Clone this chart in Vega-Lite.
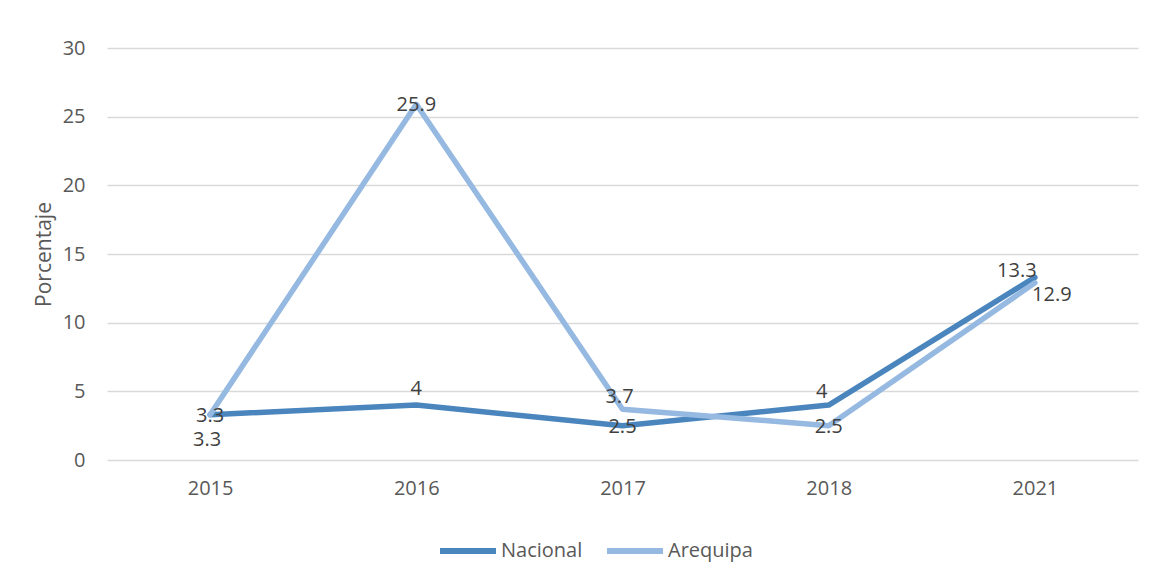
{
  "$schema": "https://vega.github.io/schema/vega-lite/v6.json",
  "autosize": {"type": "none"},
  "width": 1031,
  "height": 412,
  "padding": {"left": 107, "top": 48, "right": 25, "bottom": 125},
  "background": "white",
  "config": {
    "view": {"stroke": null},
    "font": "Open Sans",
    "axis": {"labelFont": "Open Sans", "titleFont": "Open Sans"},
    "legend": {"labelFont": "Open Sans"}
  },
  "data": {
    "values": [
      {"year": "2015", "serie": "Nacional", "value": 3.3},
      {"year": "2016", "serie": "Nacional", "value": 4},
      {"year": "2017", "serie": "Nacional", "value": 2.5},
      {"year": "2018", "serie": "Nacional", "value": 4},
      {"year": "2021", "serie": "Nacional", "value": 13.3},
      {"year": "2015", "serie": "Arequipa", "value": 3.3},
      {"year": "2016", "serie": "Arequipa", "value": 25.9},
      {"year": "2017", "serie": "Arequipa", "value": 3.7},
      {"year": "2018", "serie": "Arequipa", "value": 2.5},
      {"year": "2021", "serie": "Arequipa", "value": 12.9}
    ]
  },
  "encoding": {
    "x": {
      "field": "year",
      "type": "ordinal",
      "scale": {"type": "point", "padding": 0.5},
      "axis": {
        "title": null,
        "domain": false,
        "ticks": false,
        "grid": false,
        "labelAngle": 0,
        "labelFontSize": 20,
        "labelColor": "#595959",
        "labelPadding": 18
      }
    },
    "y": {
      "field": "value",
      "type": "quantitative",
      "scale": {"domain": [0, 30], "nice": false},
      "axis": {
        "title": "Porcentaje",
        "titleFontSize": 21,
        "titleFontWeight": "normal",
        "titleColor": "#595959",
        "titlePadding": 8,
        "values": [0, 5, 10, 15, 20, 25, 30],
        "domain": false,
        "ticks": false,
        "grid": true,
        "gridColor": "#d9d9d9",
        "gridWidth": 1.5,
        "labelFontSize": 20,
        "labelColor": "#595959",
        "labelPadding": 22
      }
    }
  },
  "layer": [
    {
      "transform": [{"filter": "datum.serie === 'Nacional'"}],
      "mark": {"type": "line", "strokeWidth": 5.5, "strokeJoin": "round", "strokeCap": "round"},
      "encoding": {
        "color": {
          "field": "serie",
          "type": "nominal",
          "scale": {"domain": ["Nacional", "Arequipa"], "range": ["#4a86bd", "#95b9e1"]},
          "legend": {
            "title": null,
            "orient": "none",
            "direction": "horizontal",
            "legendX": 330,
            "legendY": 472,
            "symbolType": "stroke",
            "symbolSize": 3136,
            "symbolStrokeWidth": 6,
            "labelFontSize": 20,
            "labelColor": "#595959",
            "labelOffset": 2,
            "columnPadding": 12
          }
        }
      }
    },
    {
      "transform": [{"filter": "datum.serie === 'Arequipa'"}],
      "mark": {"type": "line", "strokeWidth": 5.5, "strokeJoin": "round", "strokeCap": "round"},
      "encoding": {
        "color": {"field": "serie", "type": "nominal"}
      }
    },
    {
      "transform": [{"filter": "(datum.serie === 'Nacional' && (datum.year === '2015' || datum.year === '2017')) || (datum.serie === 'Arequipa' && (datum.year === '2016' || datum.year === '2018'))"}],
      "mark": {"type": "text", "fontSize": 20, "color": "#404040", "dy": 1, "baseline": "middle"},
      "encoding": {"text": {"field": "value", "type": "quantitative", "format": "~g"}}
    },
    {
      "transform": [{"filter": "datum.serie === 'Arequipa' && datum.year === '2015'"}],
      "mark": {"type": "text", "fontSize": 20, "color": "#404040", "dx": -3, "dy": 25, "baseline": "middle"},
      "encoding": {"text": {"field": "value", "type": "quantitative", "format": "~g"}}
    },
    {
      "transform": [{"filter": "datum.serie === 'Nacional' && datum.year === '2016'"}],
      "mark": {"type": "text", "fontSize": 20, "color": "#404040", "dy": -16, "baseline": "middle"},
      "encoding": {"text": {"field": "value", "type": "quantitative", "format": "~g"}}
    },
    {
      "transform": [{"filter": "datum.serie === 'Nacional' && datum.year === '2018'"}],
      "mark": {"type": "text", "fontSize": 20, "color": "#404040", "dx": -7, "dy": -13, "baseline": "middle"},
      "encoding": {"text": {"field": "value", "type": "quantitative", "format": "~g"}}
    },
    {
      "transform": [{"filter": "datum.serie === 'Arequipa' && datum.year === '2017'"}],
      "mark": {"type": "text", "fontSize": 20, "color": "#404040", "dx": -3, "dy": -12, "baseline": "middle"},
      "encoding": {"text": {"field": "value", "type": "quantitative", "format": "~g"}}
    },
    {
      "transform": [{"filter": "datum.serie === 'Nacional' && datum.year === '2021'"}],
      "mark": {"type": "text", "fontSize": 20, "color": "#404040", "dx": -18, "dy": -6, "baseline": "middle"},
      "encoding": {"text": {"field": "value", "type": "quantitative", "format": "~g"}}
    },
    {
      "transform": [{"filter": "datum.serie === 'Arequipa' && datum.year === '2021'"}],
      "mark": {"type": "text", "fontSize": 20, "color": "#404040", "dx": 17, "dy": 12, "baseline": "middle"},
      "encoding": {"text": {"field": "value", "type": "quantitative", "format": "~g"}}
    }
  ]
}
